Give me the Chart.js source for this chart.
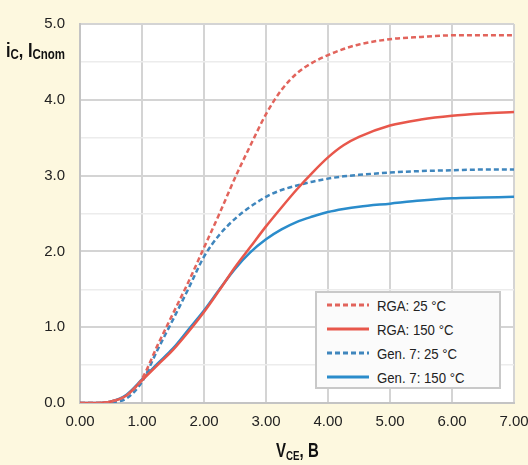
<!DOCTYPE html>
<html>
<head>
<meta charset="utf-8">
<title>IGBT output characteristics</title>
<script src="https://cdn.jsdelivr.net/npm/chart.js@4.4.1/dist/chart.umd.min.js"></script>
<style>
  body { margin: 0; background: #fdf8df; }
  #wrap { position: relative; width: 528px; height: 465px; }
  .title { position: absolute; font-family: "Liberation Sans", Arial, sans-serif;
           font-weight: bold; font-size: 20px; color: #111; white-space: nowrap; line-height: 1; }
  .title sub { font-size: 14px; vertical-align: -2px; }
  #xtitle sub { font-size: 13px; vertical-align: -3px; }
  #ytitle { right: 463px; top: 40px; transform: scaleX(0.82); transform-origin: right center; }
  #xtitle { left: 276px; top: 440px; transform: scaleX(0.75); transform-origin: left center; }
  #legend { position: absolute; left: 315px; top: 291px; width: 182px; height: 94px;
            background: #fbfbfb; border: 2px solid #c9c9c9;
            font-family: "Liberation Sans", Arial, sans-serif; font-size: 15px; color: #222; }
  .row { position: absolute; left: 10px; height: 20px; display: flex; align-items: center; }
  .row svg { margin-right: 8px; }
  .row span { display: inline-block; transform: scaleX(0.88); transform-origin: left center; white-space: nowrap; }
</style>
</head>
<body>
<div id="wrap">
  <canvas id="Chart" width="528" height="465"></canvas>
  <div class="title" id="ytitle">i<sub>C</sub>, I<sub>Cnom</sub></div>
  <div class="title" id="xtitle">V<sub>CE</sub>, B</div>
  <div id="legend"></div>
</div>
<script>
// collector-emitter voltage, V
var vce = [0, 0.25, 0.5, 0.75, 1.0, 1.25, 1.5, 1.75, 2.0, 2.25, 2.5, 2.75, 3.0, 3.25, 3.5, 3.75, 4.0, 4.25, 4.5, 5.0, 5.5, 6.0, 6.5, 7.0];
// relative collector current, i_C / I_Cnom
var rga25   = [0, 0, 0.02, 0.10, 0.32, 0.76, 1.18, 1.60, 2.05, 2.50, 2.97, 3.40, 3.81, 4.13, 4.35, 4.49, 4.59, 4.67, 4.73, 4.80, 4.83, 4.85, 4.85, 4.85];
var rga150  = [0, 0, 0.02, 0.10, 0.30, 0.50, 0.70, 0.94, 1.20, 1.49, 1.79, 2.06, 2.33, 2.58, 2.82, 3.04, 3.24, 3.40, 3.51, 3.66, 3.74, 3.79, 3.82, 3.84];
var gen25   = [0, 0, 0.01, 0.06, 0.28, 0.70, 1.10, 1.51, 1.93, 2.22, 2.43, 2.59, 2.72, 2.81, 2.87, 2.92, 2.96, 2.99, 3.01, 3.04, 3.06, 3.07, 3.08, 3.08];
var gen150  = [0, 0, 0.02, 0.11, 0.31, 0.52, 0.72, 0.97, 1.22, 1.50, 1.77, 1.99, 2.16, 2.29, 2.39, 2.46, 2.52, 2.56, 2.59, 2.63, 2.67, 2.70, 2.71, 2.72];

var names  = ["RGA: 25 °C", "RGA: 150 °C", "Gen. 7: 25 °C", "Gen. 7: 150 °C"];
var colors = ["#e2645c", "#e8574b", "#3f86bd", "#2a8ccb"];
var dashed = [true, false, true, false];
var series = [rga25, rga150, gen25, gen150];

var xTicks = [0, 1, 2, 3, 4, 5, 6, 7];
var yTicks = [0, 1, 2, 3, 4, 5];

function pts(ys) {
  return vce.map(function (x, i) { return { x: x, y: ys[i] }; });
}

var datasets = series.map(function (s, i) {
  return {
    label: names[i],
    data: pts(s),
    borderColor: colors[i],
    borderWidth: 2.5,
    borderDash: dashed[i] ? [5, 3] : [],
    pointRadius: 0,
    cubicInterpolationMode: "monotone",
    fill: false
  };
});

var plotBg = {
  id: "plotBg",
  beforeDraw: function (chart) {
    var a = chart.chartArea, c = chart.ctx;
    c.save();
    c.fillStyle = "#ffffff";
    c.fillRect(a.left, a.top, a.right - a.left, a.bottom - a.top);
    c.restore();
  }
};

var font = { family: "'Liberation Sans', Arial, sans-serif", size: 15 };

var chart = new Chart("Chart", {
  type: "line",
  data: { datasets: datasets },
  options: {
    responsive: false,
    animation: false,
    layout: { padding: { top: 14, right: 14, left: 0, bottom: 0 } },
    plugins: { legend: { display: false }, tooltip: { enabled: false } },
    scales: {
      x: {
        type: "linear",
        min: 0, max: 7,
        afterBuildTicks: function (s) { s.ticks = xTicks.map(function (v) { return { value: v }; }); },
        afterFit: function (s) { s.height = 62; s.paddingRight = 14; s.paddingLeft = 0; },
        ticks: { font: font, color: "#222", padding: 10, maxRotation: 0,
                 callback: function (v) { return v.toFixed(2); } },
        grid: { color: "#d4d4d4", lineWidth: 2, drawTicks: false },
        border: { color: "#c4c4c4", width: 2 }
      },
      y: {
        min: 0, max: 5,
        afterBuildTicks: function (s) {
          var t = [];
          for (var v = 0; v <= 5; v += 0.5) t.push({ value: v });
          s.ticks = t;
        },
        afterFit: function (s) { s.width = 80; },
        ticks: { font: font, color: "#222", padding: 15,
                 callback: function (v) { return yTicks.indexOf(v) >= 0 ? v.toFixed(1) : ""; } },
        grid: {
          drawTicks: false,
          color: function (c) { return c.tick && c.tick.value % 1 === 0 ? "#d4d4d4" : "#ececec"; },
          lineWidth: function (c) { return c.tick && c.tick.value % 1 === 0 ? 2 : 1.5; }
        },
        border: { color: "#c4c4c4", width: 2 }
      }
    }
  },
  plugins: [plotBg]
});

// html legend
var lg = document.getElementById("legend");
datasets.forEach(function (d, i) {
  var row = document.createElement("div");
  row.className = "row";
  row.style.top = (2 + i * 24) + "px";
  row.innerHTML = '<svg width="42" height="6"><line x1="0" y1="3" x2="42" y2="3" stroke="' + d.borderColor +
    '" stroke-width="3"' + (dashed[i] ? ' stroke-dasharray="5 3"' : '') + '/></svg><span>' + d.label + '</span>';
  lg.appendChild(row);
});
</script>
</body>
</html>
